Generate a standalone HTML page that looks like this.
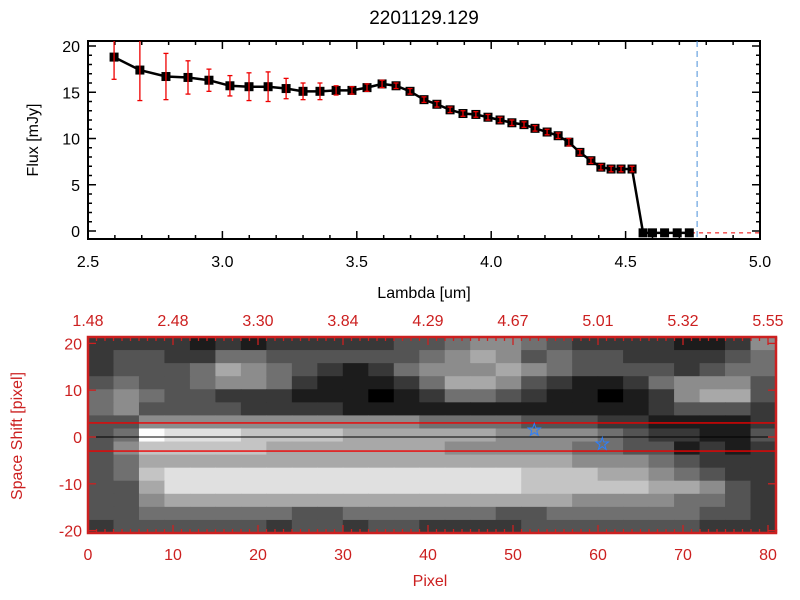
<!DOCTYPE html>
<html><head><meta charset="utf-8"><style>
html,body{margin:0;padding:0;background:#fff;}
svg{display:block;font-family:"Liberation Sans","DejaVu Sans",sans-serif;}
</style></head><body>
<svg id="s" width="800" height="600" viewBox="0 0 800 600">
<rect width="800" height="600" fill="#fff"/>
<text x="424" y="24" font-size="19" text-anchor="middle">2201129.129</text>
<g id="top"></g>
<g id="bot"></g>
</svg>
<script>
const lambdas=[2.597,2.693,2.790,2.872,2.950,3.028,3.099,3.170,3.237,3.300,3.363,3.423,3.482,3.538,3.594,3.646,3.698,3.750,3.798,3.847,3.895,3.943,3.988,4.033,4.077,4.122,4.163,4.208,4.249,4.289,4.330,4.371,4.408,4.446,4.483,4.524,4.565,4.600,4.645,4.692,4.737];
const fluxes=[18.8,17.4,16.7,16.6,16.3,15.7,15.6,15.6,15.4,15.1,15.1,15.2,15.2,15.5,15.9,15.7,15.1,14.2,13.7,13.1,12.7,12.6,12.3,12.0,11.7,11.5,11.1,10.7,10.3,9.6,8.5,7.6,6.9,6.7,6.7,6.7,-0.2,-0.2,-0.2,-0.2,-0.2];
const errors=[2.4,3.3,2.5,1.8,1.2,1.1,1.5,1.6,1.1,0.9,0.9,0.5,0.4,0.4,0.4,0.3,0.3,0.3,0.3,0.3,0.3,0.3,0.3,0.3,0.3,0.3,0.3,0.3,0.3,0.4,0.3,0.3,0.3,0.3,0.3,0.3,0,0,0,0,0];
const xTickLabels=["2.5","3.0","3.5","4.0","4.5","5.0"];
const yTickLabels=["0","5","10","15","20"];
const cutLambda=4.766;
const pixTickLabels=["0","10","20","30","40","50","60","70","80"];
const waveTickLabels=["1.48","2.48","3.30","3.84","4.29","4.67","5.01","5.32","5.55"];
const shiftTickLabels=["-20","-10","0","10","20"];
const imageRows=[
"222212122222334554322221125",
"233224433333345653433222234",
"233346543212455565433332344",
"343345542111246653211245553",
"454332221110124432110125663",
"453333222211111111111123332",
"335555555555544443332211112",
"349888777766666655554322113",
"357777766666665555544331212",
"346666666666666666655543222",
"347888888888888887776654322",
"336888888888888887777766532",
"335666666666666666655554432",
"334444443344444433444444332",
"233333323323322223333333222"];
const starPix=[52.5,60.5];
const starShift=[1.5,-1.5];
const NS="http://www.w3.org/2000/svg";
function mk(p,t,a){const e=document.createElementNS(NS,t);for(const k in a)e.setAttribute(k,a[k]);p.appendChild(e);return e;}
// top panel
const T=document.getElementById('top');
const L=88,R=760,TT=41,BB=239;
const xs=v=>L+(v-2.5)/2.5*(R-L);
const ys=v=>231-v*9.25;
let e;
e=mk(T,'rect',{x:L,y:TT,width:R-L,height:BB-TT,fill:'none',stroke:'#000','stroke-width':2});

for(let i=0;i<=25;i++){const v=2.5+i*0.1,x=xs(v),len=i%5==0?8:4;
 mk(T,'line',{x1:x,y1:BB,x2:x,y2:BB-len,stroke:'#000','stroke-width':1.5});
 mk(T,'line',{x1:x,y1:TT,x2:x,y2:TT+len,stroke:'#000','stroke-width':1.5});}
xTickLabels.forEach((t,i)=>{e=mk(T,'text',{x:xs(2.5+i*0.5),y:BB+28,'font-size':16,'text-anchor':'middle'});e.textContent=t;
 });
for(let v=0;v<=20;v++){const y=ys(v),len=v%5==0?8:4;
 mk(T,'line',{x1:L,y1:y,x2:L+len,y2:y,stroke:'#000','stroke-width':1.5});
 mk(T,'line',{x1:R,y1:y,x2:R-len,y2:y,stroke:'#000','stroke-width':1.5});}
yTickLabels.forEach((t,i)=>{e=mk(T,'text',{x:L-8,y:ys(i*5)+6,'font-size':16,'text-anchor':'end'});e.textContent=t;
 });
e=mk(T,'text',{x:424,y:298,'font-size':16,'text-anchor':'middle'});e.textContent='Lambda [um]';

e=mk(T,'text',{x:0,y:0,'font-size':16,'text-anchor':'middle',transform:'translate(38,140) rotate(-90)'});e.textContent='Flux [mJy]';

e=mk(T,'line',{x1:xs(cutLambda),y1:TT,x2:xs(cutLambda),y2:BB,stroke:'#4a90d9','stroke-width':1,'stroke-dasharray':'6,4'});

e=mk(T,'line',{x1:xs(lambdas[36]),y1:ys(-0.2),x2:R,y2:ys(-0.2),stroke:'#e00','stroke-width':1,'stroke-dasharray':'4,4'});

e=mk(T,'polyline',{points:lambdas.map((l,i)=>xs(l)+','+ys(fluxes[i])).join(' '),fill:'none',stroke:'#000','stroke-width':2.5});

lambdas.forEach((l,i)=>{const x=xs(l),y=ys(fluxes[i]);
 e=mk(T,'rect',{x:x-4.5,y:y-4.5,width:9,height:9,fill:'#000'});
 
 if(errors[i]>0){const y1=ys(fluxes[i]+errors[i]),y2=ys(fluxes[i]-errors[i]);
  const g=mk(T,'g',{stroke:'#e00','stroke-width':1.3});
  
  mk(g,'line',{x1:x,y1:Math.max(y1,TT),x2:x,y2:y2});
  if(y1>TT)mk(g,'line',{x1:x-2.5,y1:y1,x2:x+2.5,y2:y1});
  mk(g,'line',{x1:x-2.5,y1:y2,x2:x+2.5,y2:y2});}});
// bottom panel
const B=document.getElementById('bot');
const BL=88,BR=776,BT=337,BBt=533;
const px=v=>BL+v*8.5;
const py=v=>437-v*4.68;
const RED='#cc2020';
const nr=imageRows.length,nc=27;
const cw=(BR-BL)/nc,chh=(BBt-BT)/nr;
imageRows.forEach((row,r)=>{for(let c=0;c<nc;c++){const v=+(row[c]||'2');const g=Math.round(v*28);
 e=mk(B,'rect',{x:BL+c*cw,y:BT+r*chh,width:cw+0.6,height:chh+0.6,fill:`rgb(${g},${g},${g})`});
 }});
e=mk(B,'line',{x1:BL,y1:py(0),x2:BR,y2:py(0),stroke:'#000','stroke-width':1});

[3,-3].forEach(v=>{e=mk(B,'line',{x1:BL,y1:py(v),x2:BR,y2:py(v),stroke:'#e00','stroke-width':1.3});
 });
starPix.forEach((p,i)=>{const cx=px(p),cy=py(starShift[i]);let pts=[];
 for(let k=0;k<10;k++){const a=-Math.PI/2+k*Math.PI/5,r=k%2?2.6:6.5;pts.push((cx+r*Math.cos(a)).toFixed(1)+','+(cy+r*Math.sin(a)).toFixed(1));}
 e=mk(B,'polygon',{points:pts.join(' '),fill:'none',stroke:'#2a7fff','stroke-width':1});
 });
e=mk(B,'rect',{x:BL,y:BT,width:BR-BL,height:BBt-BT,fill:'none',stroke:RED,'stroke-width':2.5});

for(let v=0;v<=81;v++){const x=px(v),len=v%10==0?8:4;
 mk(B,'line',{x1:x,y1:BBt,x2:x,y2:BBt-len,stroke:RED,'stroke-width':1.3});
 mk(B,'line',{x1:x,y1:BT,x2:x,y2:BT+len,stroke:RED,'stroke-width':1.3});}
pixTickLabels.forEach((t,i)=>{e=mk(B,'text',{x:px(i*10),y:560,'font-size':16,'text-anchor':'middle',fill:RED});e.textContent=t;
 });
waveTickLabels.forEach((t,i)=>{e=mk(B,'text',{x:px(i*10),y:326,'font-size':16,'text-anchor':'middle',fill:RED});e.textContent=t;
 });
for(let v=-20;v<=20;v+=10){const y=py(v);
 mk(B,'line',{x1:BL,y1:y,x2:BL+8,y2:y,stroke:RED,'stroke-width':1.3});
 mk(B,'line',{x1:BR,y1:y,x2:BR-8,y2:y,stroke:RED,'stroke-width':1.3});}
shiftTickLabels.forEach((t,i)=>{e=mk(B,'text',{x:BL-6,y:py(-20+i*10)+6,'font-size':16,'text-anchor':'end',fill:RED});e.textContent=t;
 });
e=mk(B,'text',{x:430,y:586,'font-size':16,'text-anchor':'middle',fill:RED});e.textContent='Pixel';

e=mk(B,'text',{x:0,y:0,'font-size':16,'text-anchor':'middle',fill:RED,transform:'translate(22,436) rotate(-90)'});e.textContent='Space Shift [pixel]';

</script>
</body></html>
